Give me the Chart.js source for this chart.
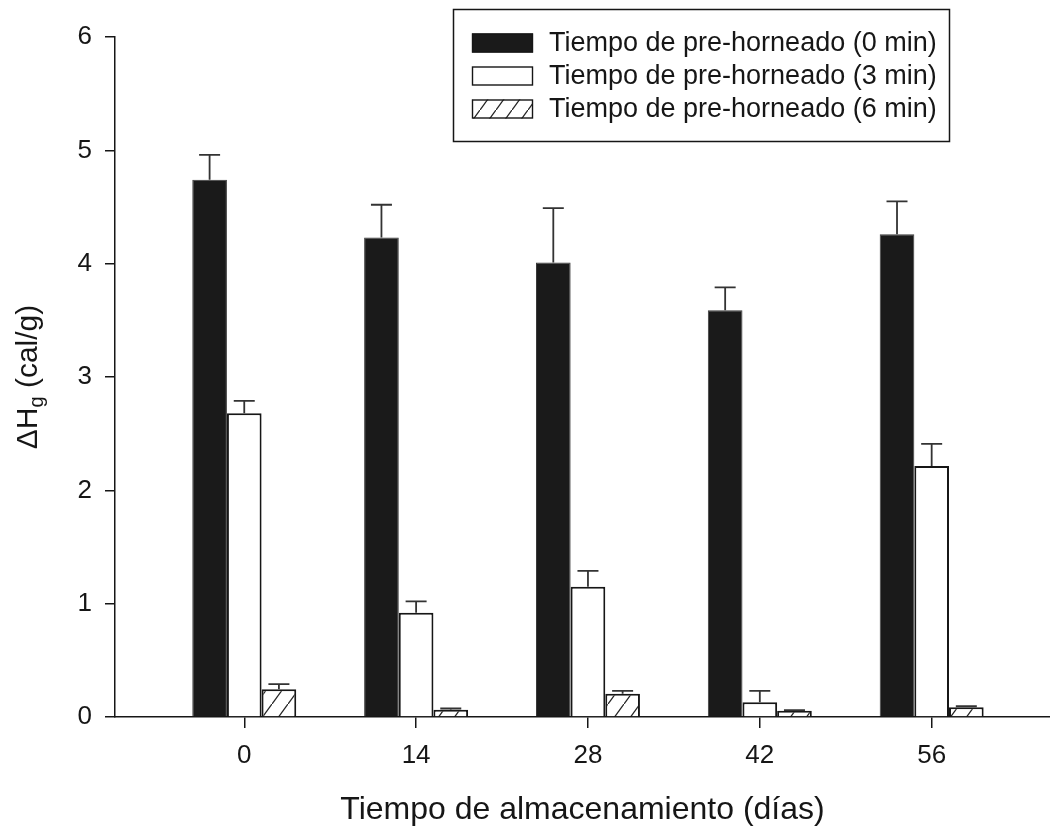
<!DOCTYPE html>
<html><head><meta charset="utf-8">
<style>html,body{margin:0;padding:0;background:#fff}#wrap{width:1050px;height:831px}</style>
<script src="https://cdn.jsdelivr.net/npm/chart.js@4"></script>
</head><body><div id="wrap"><canvas id="c" width="1050" height="831"></canvas></div>
<script>
// ---- data ----
const days = [0, 14, 28, 42, 56];
const seriesLabels = ['Tiempo de pre-horneado (0 min)', 'Tiempo de pre-horneado (3 min)', 'Tiempo de pre-horneado (6 min)'];
const mean0 = [4.74, 4.23, 4.01, 3.59, 4.26];
const sd0   = [0.22, 0.29, 0.48, 0.20, 0.29];
const mean3 = [2.68, 0.92, 1.15, 0.13, 2.215];
const sd3   = [0.11, 0.10, 0.14, 0.10, 0.195];
const mean6 = [0.245, 0.065, 0.205, 0.055, 0.085];
const sd6   = [0.045, 0.01, 0.025, 0.005, 0.01];
const yTicks = [0, 1, 2, 3, 4, 5, 6];
const xTitle = 'Tiempo de almacenamiento (días)';
const yTitleMain = 'ΔH', yTitleSub = 'g', yTitleUnit = ' (cal/g)';

const FAM = '"Liberation Sans", Arial, sans-serif';
const INK = '#161616';

function hatchPattern() {
  const c = document.createElement('canvas');
  c.width = 16; c.height = 22;
  const g = c.getContext('2d');
  g.fillStyle = '#fff'; g.fillRect(0, 0, 16, 22);
  g.strokeStyle = '#222'; g.lineWidth = 1.3;
  g.beginPath(); g.moveTo(-2, 24.75); g.lineTo(18, -2.75); g.stroke();
  return g.createPattern(c, 'repeat');
}
const hatch = hatchPattern();

const errorBars = {
  id: 'errorBars',
  afterDatasetsDraw(chart) {
    const ctx = chart.ctx, ys = chart.scales.y;
    ctx.save();
    ctx.strokeStyle = '#333'; ctx.lineWidth = 1.8;
    chart.data.datasets.forEach((ds, i) => {
      const meta = chart.getDatasetMeta(i);
      meta.data.forEach((el, j) => {
        const top = ys.getPixelForValue(ds.data[j].y + ds.sd[j]);
        ctx.beginPath();
        ctx.moveTo(el.x, el.y); ctx.lineTo(el.x, top);
        ctx.moveTo(el.x - 10.5, top); ctx.lineTo(el.x + 10.5, top);
        ctx.stroke();
      });
    });
    ctx.restore();
  }
};

const yTitle = {
  id: 'yTitle',
  afterDraw(chart) {
    const ctx = chart.ctx;
    const ca = chart.chartArea;
    const cy = (ca.top + ca.bottom) / 2;
    ctx.save();
    ctx.translate(37, cy);
    ctx.rotate(-Math.PI / 2);
    ctx.fillStyle = INK;
    ctx.textBaseline = 'alphabetic';
    const mainFont = '30px ' + FAM, subFont = '20px ' + FAM;
    ctx.font = mainFont; const w1 = ctx.measureText(yTitleMain).width;
    const w3 = ctx.measureText(yTitleUnit).width;
    ctx.font = subFont; const w2 = ctx.measureText(yTitleSub).width;
    let x = -(w1 + w2 + w3) / 2;
    ctx.font = mainFont; ctx.fillText(yTitleMain, x, 0); x += w1;
    ctx.font = subFont; ctx.fillText(yTitleSub, x, 6); x += w2;
    ctx.font = mainFont; ctx.fillText(yTitleUnit, x, 0);
    ctx.restore();
  }
};

const legendBox = {
  id: 'legendBox',
  afterDraw(chart) {
    const ctx = chart.ctx;
    ctx.save();
    ctx.lineWidth = 1.5; ctx.strokeStyle = INK;
    ctx.strokeRect(453.5, 9.5, 496, 132);
    const rows = [43, 76, 109];
    chart.data.datasets.forEach((ds, i) => {
      const y = rows[i];
      ctx.fillStyle = ds.backgroundColor;
      ctx.fillRect(472, y - 9.5, 61, 19);
      ctx.strokeStyle = INK; ctx.lineWidth = 1.4;
      ctx.strokeRect(472.5, y - 9, 60, 18);
      ctx.fillStyle = INK;
      ctx.font = '27px ' + FAM;
      ctx.textBaseline = 'middle';
      ctx.fillText(ds.label, 549, y + 1);
    });
    ctx.restore();
  }
};

const gridOpts = (tl) => ({display: true, drawOnChartArea: false, drawTicks: true, tickLength: tl, color: INK, lineWidth: 1.5, offset: false});

new Chart(document.getElementById('c'), {
  type: 'bar',
  data: {
    datasets: [
      {label: seriesLabels[0], data: days.map((d, i) => ({x: d, y: mean0[i]})), sd: sd0,
       backgroundColor: '#1a1a1a', borderColor: '#3a3a3a', borderWidth: 1},
      {label: seriesLabels[1], data: days.map((d, i) => ({x: d, y: mean3[i]})), sd: sd3,
       backgroundColor: '#ffffff', borderColor: INK, borderWidth: 2},
      {label: seriesLabels[2], data: days.map((d, i) => ({x: d, y: mean6[i]})), sd: sd6,
       backgroundColor: hatch, borderColor: INK, borderWidth: 2}
    ]
  },
  options: {
    responsive: false,
    animation: false,
    layout: {padding: {top: 37, left: 0, right: 0, bottom: 0}},
    datasets: {bar: {categoryPercentage: 0.605, barPercentage: 1}},
    plugins: {legend: {display: false}, tooltip: {enabled: false}},
    scales: {
      x: {
        type: 'linear', min: -10.53, max: 65.64, offset: false,
        afterBuildTicks: s => { s.ticks = days.map(v => ({value: v})); },
        afterFit: s => { s.height = 114; },
        grid: gridOpts(11),
        border: {display: true, color: INK, width: 1.5},
        ticks: {font: {family: FAM, size: 26}, color: INK, padding: 12, maxRotation: 0, autoSkip: false},
        title: {display: true, text: xTitle, font: {family: FAM, size: 32}, color: INK, padding: {top: 0, bottom: 2}}
      },
      y: {
        min: 0, max: 6,
        afterBuildTicks: s => { s.ticks = yTicks.map(v => ({value: v})); },
        afterFit: s => { s.width = 115; },
        grid: gridOpts(10),
        border: {display: true, color: INK, width: 1.5},
        ticks: {font: {family: FAM, size: 26}, color: INK, padding: 13}
      }
    }
  },
  plugins: [errorBars, yTitle, legendBox]
});
</script>
</body></html>
